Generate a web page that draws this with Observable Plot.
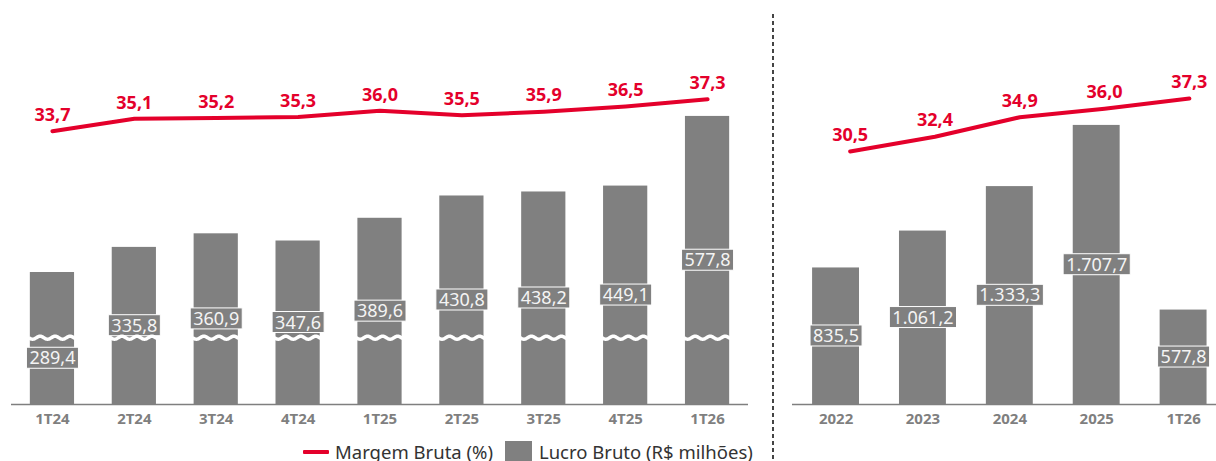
<!DOCTYPE html>
<html>
<head>
<meta charset="utf-8">
<script src="https://cdn.jsdelivr.net/npm/d3@7"></script>
<script src="https://cdn.jsdelivr.net/npm/@observablehq/plot@0.6"></script>
<style>
  body { margin: 0; background: #fff; }
  #wrap { position: relative; width: 1216px; height: 461px; overflow: hidden; font-family: "Noto Sans", sans-serif; background: #fff; }
  .layer { position: absolute; top: 0; }
  #divider { position: absolute; left: 772px; top: 14px; width: 2px; height: 447px;
    background: repeating-linear-gradient(to bottom, #444 0 4px, transparent 4px 7px); }
  #legend { position: absolute; left: 303px; top: 439px; height: 26px; display: flex; align-items: center;
    font-size: 18.5px; color: #333; white-space: nowrap; line-height: 26px; }
  #legend .sw-line { width: 26px; height: 4px; background: #e4002b; margin-right: 6px; border-radius: 1px; }
  #legend .sw-box { width: 27px; height: 22px; background: #808080; margin-left: 12px; margin-right: 7px; }
</style>
</head>
<body>
<div id="wrap">
  <div id="divider"></div>
  <div id="legend"><span class="sw-line"></span><span>Margem Bruta (%)</span><span class="sw-box"></span><span>Lucro Bruto (R$ milhões)</span></div>
</div>
<script>
// ---- Data ----
const quarters = ["1T24", "2T24", "3T24", "4T24", "1T25", "2T25", "3T25", "4T25", "1T26"];
const lucroTrimestral = [289.4, 335.8, 360.9, 347.6, 389.6, 430.8, 438.2, 449.1, 577.8];
const margemTrimestral = [33.7, 35.1, 35.2, 35.3, 36.0, 35.5, 35.9, 36.5, 37.3];

const years = ["2022", "2023", "2024", "2025", "1T26"];
const lucroAnual = [835.5, 1061.2, 1333.3, 1707.7, 577.8];
const margemAnual = [30.5, 32.4, 34.9, 36.0, 37.3];

// ---- Styling ----
const RED = "#e4002b";
const GRAY = "#808080";
const FONT = "Noto Sans, sans-serif";
const ptbr = d3.formatLocale({decimal: ",", thousands: ".", grouping: [3], currency: ["R$", ""]});
const fmt = ptbr.format(",.1f");

const qData = quarters.map((q, i) => ({q, lucro: lucroTrimestral[i], margem: margemTrimestral[i]}));
const yData = years.map((y, i) => ({y, lucro: lucroAnual[i], margem: margemAnual[i]}));

// scale settings (left axis is broken)
const Q_BASE = 45.5, Q_TOP = 792, Q_BREAK = 168;
const A_TOP = 2472;

const wrap = document.getElementById("wrap");
const transparent = {background: "transparent", fontFamily: FONT, overflow: "visible"};

const leftFrame = {width: 770, height: 440, marginLeft: 11, marginRight: 22, marginTop: 0, marginBottom: 36};
const rightFrame = {width: 436, height: 440, marginLeft: 12, marginRight: 0, marginTop: 0, marginBottom: 36};
const leftX = {domain: quarters, paddingInner: 0.46, paddingOuter: 0.23, round: false};
const rightX = {domain: years, paddingInner: 0.46, paddingOuter: 0.17, align: 0.68, round: false};

function place(svg, left) {
  svg.classList.add("layer");
  svg.style.left = left + "px";
  wrap.appendChild(svg);
  return svg;
}

function boxLabels(svg) {
  d3.select(svg).selectAll('g[aria-label="text"] text').each(function() {
    const b = this.getBBox();
    const cy = b.y + b.height / 2 + 0.5;
    const r = document.createElementNS("http://www.w3.org/2000/svg", "rect");
    r.setAttribute("x", b.x - 3);
    r.setAttribute("y", cy - 10.5);
    r.setAttribute("width", b.width + 6);
    r.setAttribute("height", 21);
    r.setAttribute("fill", GRAY);
    r.setAttribute("stroke", "#ffffff");
    r.setAttribute("stroke-width", 1);
    const t = this.getAttribute("transform");
    if (t) r.setAttribute("transform", t);
    this.parentNode.insertBefore(r, this);
  });
}

function barLayer(data, key, frame, xopt, ydomain, base, extra) {
  return Plot.plot({
    ...frame,
    style: transparent,
    x: {...xopt, axis: null},
    y: {domain: ydomain, axis: null},
    marks: [
      Plot.barY(data, {x: key, y1: base, y2: "lucro", fill: GRAY}),
      Plot.ruleY([base], {stroke: "#7f7f7f", strokeWidth: 1.5}),
      Plot.axisX({tickSize: 0, tickPadding: 9, fontSize: 15, fontWeight: 700, fill: "#7f7f7f", label: null,
        style: {letterSpacing: "0.5px"}}),
      ...extra
    ]
  });
}

function lineLayer(data, key, frame, xopt, ydomain) {
  return Plot.plot({
    ...frame,
    style: transparent,
    x: {...xopt, axis: null},
    y: {domain: ydomain, axis: null},
    marks: [
      Plot.lineY(data, {x: key, y: "margem", stroke: RED, strokeWidth: 4, strokeLinecap: "round"}),
      Plot.text(data, {x: key, y: "margem", text: d => fmt(d.margem), dy: -16, fill: RED,
        fontSize: 18, fontWeight: 700, fontFamily: FONT})
    ]
  });
}

// ---- Left: quarterly ----
const labelStyle = {fill: "#f4f4f4", fontSize: 18, fontFamily: FONT};
const barsL = place(barLayer(qData, "q", leftFrame, leftX, [Q_BASE, Q_TOP], Q_BASE, [
  Plot.text(qData.slice(1), {x: "q", y: d => (Q_BASE + d.lucro) / 2, text: d => fmt(d.lucro), ...labelStyle}),
  Plot.text(qData.slice(0, 1), {x: "q", y: d => (Q_BASE + d.lucro) / 2, text: d => fmt(d.lucro), dy: 20, ...labelStyle})
]), 0);

// axis-break waves
{
  const sx = barsL.scale("x"), sy = barsL.scale("y");
  const yb = sy.apply(Q_BREAK);
  const g = d3.select(barsL).append("g").attr("aria-label", "break");
  for (const q of quarters) {
    const x0 = sx.apply(q) - 1, x1 = sx.apply(q) + sx.bandwidth + 1;
    const pts = d3.range(x0, x1 + 0.5, 0.5).map(x => [x, yb + 1.5 * Math.sin((x - x0) / 15 * 2 * Math.PI)]);
    g.append("path").attr("d", d3.line()(pts)).attr("fill", "none").attr("stroke", "#fff").attr("stroke-width", 3.5);
  }
}
boxLabels(barsL);
place(lineLayer(qData, "q", leftFrame, leftX, [3.0, 48.4]), 0);

// ---- Right: annual ----
const barsR = place(barLayer(yData, "y", rightFrame, rightX, [0, A_TOP], 0, [
  Plot.text(yData, {x: "y", y: d => d.lucro / 2, text: d => fmt(d.lucro), ...labelStyle})
]), 780);
boxLabels(barsR);
place(lineLayer(yData, "y", rightFrame, rightX, [-2.0, 49.9]), 780);
</script>
</body>
</html>
